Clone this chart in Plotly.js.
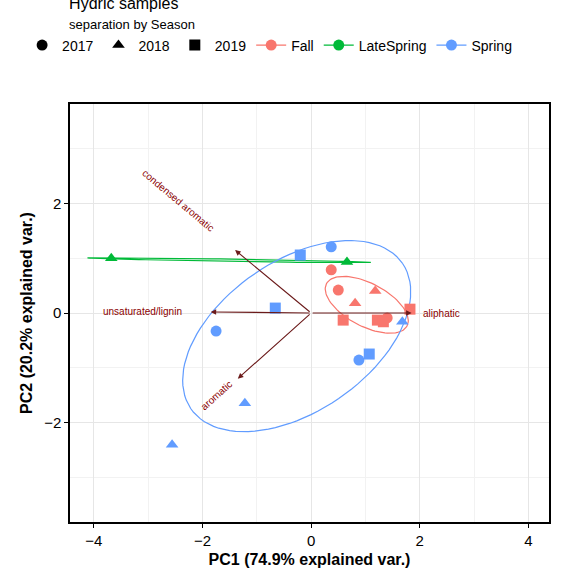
<!DOCTYPE html>
<html><head><meta charset="utf-8">
<script src="https://cdn.plot.ly/plotly-3.0.1.min.js"></script>
<style>body{margin:0}</style></head>
<body><div id="chart" style="width:576px;height:576px"></div>
<script>
// sample scores (PC1, PC2), year, season
const pc1 = [0.37, -1.75, 0.88, -0.2, -0.66, 1.07, 1.68, -1.22, -2.56,
             0.37, 0.5, 1.4, 0.59, 1.22, 1.33, 1.82, 0.81, 1.18,
             -3.68, 0.66];
const pc2 = [1.21, -0.33, -0.86, 1.06, 0.09, -0.75, -0.16, -1.65, -2.41,
             0.79, 0.42, -0.09, -0.13, -0.13, -0.16, 0.07, 0.18, 0.4,
             1.0, 0.93];
const year = [2017, 2017, 2017, 2019, 2019, 2019, 2018, 2018, 2018,
              2017, 2017, 2017, 2019, 2019, 2019, 2019, 2018, 2018,
              2018, 2018];
const season = ['Spring','Spring','Spring','Spring','Spring','Spring','Spring','Spring','Spring',
                'Fall','Fall','Fall','Fall','Fall','Fall','Fall','Fall','Fall',
                'LateSpring','LateSpring'];

const varNames = ['aliphatic', 'condensed aromatic', 'unsaturated/lignin', 'aromatic'];
const varX = [1.85, -1.4, -1.85, -1.35];
const varY = [0.0, 1.15, 0.02, -1.2];

const seasons = ['Fall', 'LateSpring', 'Spring'];
const seasonColors = {Fall: '#F8766D', LateSpring: '#00BA38', Spring: '#619CFF'};
const years = [2017, 2018, 2019];
const yearSymbols = {2017: 'circle', 2018: 'triangle-up', 2019: 'square'};

const traces = [];
const annotations = [];

// ellipses (normal, 95%, shrunk to look like the robust fit)
const fq = {8: 4.459, 1: 199.5};
const shrink = {Fall: 0.53, Spring: 0.5, LateSpring: 1};
seasons.forEach(s => {
  const xs = [], ys = [];
  pc1.forEach((v, i) => { if (season[i] === s) { xs.push(v); ys.push(pc2[i]); } });
  const n = xs.length;
  const mx = xs.reduce((a, b) => a + b) / n, my = ys.reduce((a, b) => a + b) / n;
  let sxx = 0, syy = 0, sxy = 0;
  xs.forEach((v, i) => { sxx += (v - mx) ** 2; syy += (ys[i] - my) ** 2; sxy += (v - mx) * (ys[i] - my); });
  sxx /= n - 1; syy /= n - 1; sxy /= n - 1;
  const tr = sxx + syy, det = sxx * syy - sxy * sxy;
  const l1 = tr / 2 + Math.sqrt(tr * tr / 4 - det), l2 = Math.max(tr / 2 - Math.sqrt(tr * tr / 4 - det), 0.0006);
  const ang = Math.atan2(l1 - sxx, sxy || 1e-9);
  const k = n > 2 ? Math.sqrt(2 * fq[n - 1]) * shrink[s] : 0.85;
  const ex = [], ey = [];
  for (let t = 0; t <= 100; t++) {
    const th = 2 * Math.PI * t / 100;
    const a = k * Math.sqrt(l1) * Math.cos(th), b = k * Math.sqrt(l2) * Math.sin(th);
    ex.push(mx + a * Math.cos(ang) - b * Math.sin(ang));
    ey.push(my + a * Math.sin(ang) + b * Math.cos(ang));
  }
  traces.push({x: ex, y: ey, mode: 'lines', line: {color: seasonColors[s], width: 1.2},
               showlegend: false, hoverinfo: 'skip'});
});

// arrows + labels
const labelPos = {'aliphatic': [2.4, 0, 0], 'condensed aromatic': [-2.45, 2.05, 40],
                  'unsaturated/lignin': [-3.1, 0.03, 0], 'aromatic': [-1.75, -1.5, -42]};
varNames.forEach((nm, i) => {
  annotations.push({x: varX[i], y: varY[i], ax: 0, ay: 0, axref: 'x', ayref: 'y', xref: 'x', yref: 'y',
    showarrow: true, arrowhead: 2, arrowsize: 1, arrowwidth: 1.1, arrowcolor: '#6b1a1a', text: ''});
  const p = labelPos[nm];
  annotations.push({x: p[0], y: p[1], xref: 'x', yref: 'y', text: nm, showarrow: false, textangle: p[2],
    font: {size: 10, color: '#8b0000', family: 'Liberation Sans, Arial'}});
});

// points
seasons.forEach(s => years.forEach(y => {
  const xs = [], ys = [];
  pc1.forEach((v, i) => { if (season[i] === s && year[i] === y) { xs.push(v); ys.push(pc2[i]); } });
  traces.push({x: xs, y: ys, mode: 'markers', showlegend: false,
    marker: {symbol: yearSymbols[y], color: seasonColors[s], size: 11}});
}));

// legend entries
years.forEach(y => traces.push({x: [null], y: [null], mode: 'markers', name: String(y),
  marker: {symbol: yearSymbols[y], color: 'black', size: 11}}));
seasons.forEach(s => traces.push({x: [null], y: [null], mode: 'lines+markers', name: s,
  marker: {symbol: 'circle', color: seasonColors[s], size: 11}, line: {color: seasonColors[s], width: 1.2}}));

const axisBase = {showline: true, mirror: true, linecolor: 'black', linewidth: 1.5, zeroline: false,
  gridcolor: '#e6e6e6', ticks: 'outside', ticklen: 4, tickcolor: 'black',
  minor: {dtick: 1, showgrid: true, gridcolor: '#f2f2f2'},
  tickfont: {size: 15, color: 'black'}, dtick: 2};

const layout = {
  width: 576, height: 576,
  margin: {l: 70, r: 27, t: 104, b: 54},
  paper_bgcolor: 'white', plot_bgcolor: 'white',
  font: {family: 'Liberation Sans, Arial', color: 'black'},
  title: {text: 'Hydric samples<br><span style="font-size:13px">separation by Season</span>',
          x: 0.12, xanchor: 'left', y: 0.985, yanchor: 'top', font: {size: 16}},
  xaxis: Object.assign({}, axisBase, {range: [-4.44, 4.38],
    title: {text: '<b>PC1 (74.9% explained var.)</b>', font: {size: 16}, standoff: 6}}),
  yaxis: Object.assign({}, axisBase, {range: [-3.82, 3.82],
    title: {text: '<b>PC2 (20.2% explained var.)</b>', font: {size: 16}, standoff: 8}}),
  legend: {orientation: 'h', x: -0.1, y: 1.14, xanchor: 'left', yanchor: 'middle', font: {size: 14},
           traceorder: 'normal', bgcolor: 'rgba(0,0,0,0)', itemwidth: 30},
  annotations: annotations,
  showlegend: true
};

Plotly.newPlot('chart', traces, layout, {displayModeBar: false});
</script></body></html>
